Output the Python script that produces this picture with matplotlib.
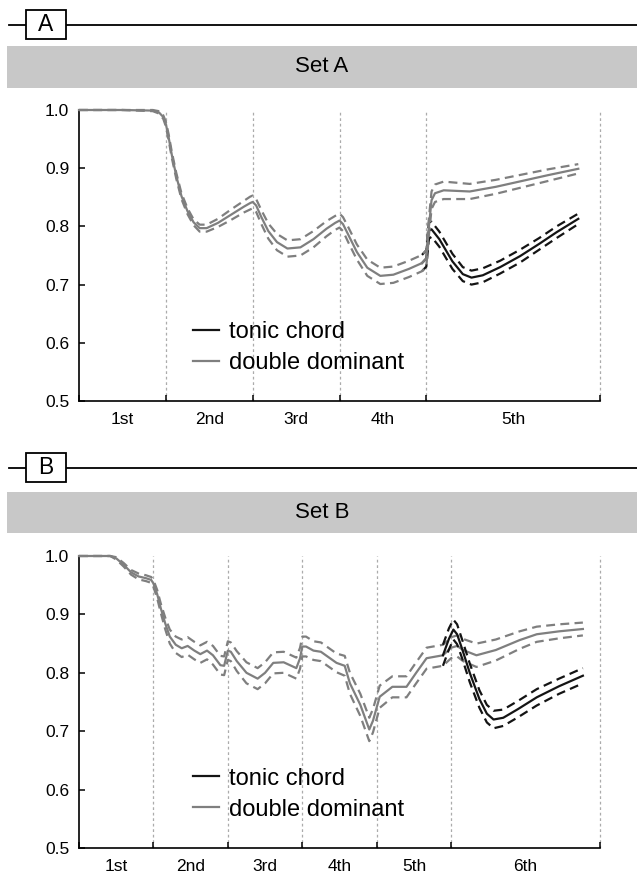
import matplotlib
matplotlib.use("Agg")
import matplotlib.pyplot as plt
from matplotlib.patches import Rectangle
from matplotlib.lines import Line2D
import numpy as np

plt.rcParams['font.family'] = ['Liberation Sans', 'DejaVu Sans']

# ---------------- data ----------------
legend_labels = ["tonic chord", "double dominant"]

# Panel A (Set A)
a_bounds = [0, 1, 2, 3, 4, 6]
a_labels = ["1st", "2nd", "3rd", "4th", "5th"]

xa_dd = [0.00, 0.50, 0.85, 0.92, 0.97, 1.00, 1.03, 1.07, 1.12, 1.18,
         1.25, 1.32, 1.39, 1.47, 1.60, 1.75, 1.90, 1.97, 2.00, 2.04,
         2.10, 2.18, 2.28, 2.40, 2.55, 2.70, 2.85, 2.95, 3.00, 3.04,
         3.10, 3.20, 3.32, 3.47, 3.62, 3.80, 3.95, 4.00, 4.03, 4.06,
         4.10, 4.20, 4.50, 4.80, 5.10, 5.40, 5.75]
ya_dd = [1.000, 1.000, 0.999, 0.996, 0.988, 0.976, 0.955, 0.922, 0.887, 0.852,
         0.826, 0.807, 0.797, 0.797, 0.806, 0.820, 0.834, 0.840, 0.842, 0.836,
         0.816, 0.792, 0.773, 0.762, 0.764, 0.778, 0.796, 0.806, 0.810, 0.804,
         0.786, 0.756, 0.729, 0.715, 0.717, 0.727, 0.737, 0.745, 0.800, 0.845,
         0.857, 0.862, 0.860, 0.868, 0.878, 0.888, 0.899]
ci_a_dd = [0.000, 0.000, 0.001, 0.002, 0.003, 0.004, 0.005, 0.005, 0.005, 0.005,
           0.005, 0.005, 0.006, 0.006, 0.007, 0.009, 0.010, 0.011, 0.011, 0.011,
           0.012, 0.013, 0.014, 0.014, 0.014, 0.014, 0.013, 0.012, 0.012, 0.012,
           0.013, 0.013, 0.014, 0.014, 0.014, 0.014, 0.014, 0.014, 0.015, 0.015,
           0.015, 0.015, 0.013, 0.012, 0.011, 0.010, 0.008]

xa_tc = [3.95, 4.00, 4.03, 4.06, 4.15, 4.30, 4.42, 4.52, 4.65, 4.85, 5.08, 5.30, 5.50, 5.75]
ya_tc = [0.737, 0.745, 0.793, 0.795, 0.778, 0.740, 0.718, 0.712, 0.716, 0.730, 0.749, 0.770, 0.790, 0.813]
ci_a_tc = [0.014, 0.014, 0.014, 0.013, 0.013, 0.013, 0.012, 0.012, 0.012, 0.011, 0.011, 0.010, 0.010, 0.009]

# Panel B (Set B)
b_bounds = [0, 1, 2, 3, 4, 5, 7]
b_labels = ["1st", "2nd", "3rd", "4th", "5th", "6th"]

xb_dd = [0.00, 0.42, 0.50, 0.60, 0.70, 0.80, 0.90, 0.97, 1.00, 1.05,
         1.10, 1.16, 1.22, 1.30, 1.38, 1.46, 1.55, 1.63, 1.72, 1.80,
         1.90, 1.95, 2.00, 2.04, 2.12, 2.25, 2.40, 2.50, 2.61, 2.75,
         2.92, 2.97, 3.00, 3.05, 3.15, 3.25, 3.46, 3.57, 3.64, 3.78,
         3.90, 3.95, 4.04, 4.21, 4.40, 4.53, 4.67, 4.89, 5.00, 5.08,
         5.16, 5.34, 5.60, 5.92, 6.15, 6.45, 6.77]
yb_dd = [1.000, 1.000, 0.996, 0.985, 0.972, 0.965, 0.962, 0.959, 0.953, 0.935,
         0.910, 0.884, 0.862, 0.848, 0.842, 0.846, 0.838, 0.832, 0.838, 0.830,
         0.813, 0.812, 0.838, 0.836, 0.820, 0.800, 0.790, 0.800, 0.817, 0.818,
         0.808, 0.825, 0.845, 0.845, 0.838, 0.836, 0.817, 0.812, 0.782, 0.745,
         0.703, 0.718, 0.759, 0.776, 0.776, 0.800, 0.825, 0.830, 0.843, 0.846,
         0.839, 0.830, 0.839, 0.856, 0.866, 0.871, 0.875]
ci_b_dd = [0.000, 0.000, 0.002, 0.003, 0.004, 0.005, 0.005, 0.005, 0.006, 0.007,
           0.008, 0.010, 0.012, 0.014, 0.015, 0.015, 0.015, 0.015, 0.015, 0.016,
           0.016, 0.016, 0.016, 0.016, 0.017, 0.018, 0.018, 0.018, 0.018, 0.018,
           0.018, 0.018, 0.017, 0.017, 0.016, 0.016, 0.016, 0.017, 0.018, 0.019,
           0.020, 0.020, 0.019, 0.018, 0.018, 0.018, 0.018, 0.018, 0.018, 0.018,
           0.019, 0.020, 0.018, 0.015, 0.013, 0.012, 0.011]

xb_tc = [4.89, 4.97, 5.03, 5.08, 5.15, 5.25, 5.38, 5.48, 5.57, 5.70, 5.90, 6.15, 6.45, 6.77]
yb_tc = [0.830, 0.858, 0.874, 0.866, 0.840, 0.800, 0.755, 0.730, 0.720, 0.723, 0.738, 0.758, 0.777, 0.795]
ci_b_tc = [0.018, 0.018, 0.017, 0.017, 0.016, 0.016, 0.015, 0.015, 0.015, 0.014, 0.014, 0.014, 0.013, 0.013]

# ---------------- style ----------------
C_TC = "#141414"
C_DD = "#7f7f7f"
W, H = 637, 889

fig = plt.figure(figsize=(W / 100, H / 100), dpi=100)


def px_rect(x0, y0, x1, y1):
    return [x0 / W, 1 - y1 / H, (x1 - x0) / W, (y1 - y0) / H]


def header(letter, title, line_y, box, band):
    fig.add_artist(Line2D([9 / W, 1.0], [1 - line_y / H, 1 - line_y / H],
                          color="black", lw=1.3, transform=fig.transFigure))
    bx0, by0, bx1, by1 = box
    fig.add_artist(Rectangle((bx0 / W, 1 - by1 / H), (bx1 - bx0) / W, (by1 - by0) / H,
                             transform=fig.transFigure, facecolor="white",
                             edgecolor="black", lw=1.3, zorder=3))
    fig.text((bx0 + bx1) / 2 / W, 1 - (by0 + by1) / 2 / H, letter, ha="center",
             va="center", fontsize=16.5, zorder=4)
    gx0, gy0, gx1, gy1 = band
    fig.add_artist(Rectangle((gx0 / W, 1 - gy1 / H), (gx1 - gx0) / W, (gy1 - gy0) / H,
                             transform=fig.transFigure, facecolor="#c8c8c8",
                             edgecolor="none", zorder=1))
    fig.text((gx0 + gx1) / 2 / W, 1 - (gy0 + gy1) / 2 / H, title, ha="center",
             va="center", fontsize=16, zorder=2)


def panel(rect, bounds, labels, series):
    ax = fig.add_axes(px_rect(*rect))
    ax.set_xlim(bounds[0], bounds[-1])
    ax.set_ylim(0.5, 1.0)
    for s in ["top", "right"]:
        ax.spines[s].set_visible(False)
    for s in ["left", "bottom"]:
        ax.spines[s].set_linewidth(1.2)
    for b in bounds[1:]:
        ax.axvline(b, color="#ababab", lw=0.9, ls=(0, (2.2, 2.2)), zorder=1, clip_on=False)
    ax.set_yticks([0.5, 0.6, 0.7, 0.8, 0.9, 1.0])
    ax.set_yticklabels(["0.5", "0.6", "0.7", "0.8", "0.9", "1.0"])
    ax.set_xticks(bounds)
    ax.set_xticklabels([""] * len(bounds))
    centers = [(bounds[i] + bounds[i + 1]) / 2 for i in range(len(bounds) - 1)]
    ax.set_xticks(centers, minor=True)
    ax.set_xticklabels(labels, minor=True)
    ax.tick_params(axis="both", which="major", direction="in", length=4, width=1.1,
                   labelsize=12.5, pad=7)
    ax.tick_params(axis="x", which="minor", length=0, labelsize=12.5, pad=8)
    handles = []
    for (x, y, ci, col, z) in series:
        x = np.asarray(x)
        y = np.asarray(y)
        ci = np.asarray(ci)
        ax.plot(x, y + ci, color=col, lw=1.6, ls=(0, (4, 2.4)), zorder=z, clip_on=False)
        ax.plot(x, y - ci, color=col, lw=1.6, ls=(0, (4, 2.4)), zorder=z, clip_on=False)
        ln, = ax.plot(x, y, color=col, lw=1.6, zorder=z + 0.5, clip_on=False)
        handles.append(ln)
    ax.legend(handles, legend_labels, loc="upper left", bbox_to_anchor=(0.219, 0.275),
              frameon=False, fontsize=17, handlelength=1.1, handletextpad=0.4,
              labelspacing=0.38, borderpad=0, borderaxespad=0)
    return ax


header("A", "Set A", 25, (26, 10, 66, 39), (7, 46, 637, 88))
panel((79, 110, 600, 401), a_bounds, a_labels,
      [(xa_tc, ya_tc, ci_a_tc, C_TC, 3), (xa_dd, ya_dd, ci_a_dd, C_DD, 4)])

header("B", "Set B", 468, (26, 453, 66, 482), (7, 492, 637, 533))
panel((79, 556, 600, 848), b_bounds, b_labels,
      [(xb_tc, yb_tc, ci_b_tc, C_TC, 4), (xb_dd, yb_dd, ci_b_dd, C_DD, 3)])

fig.savefig("out.png", dpi=100)
